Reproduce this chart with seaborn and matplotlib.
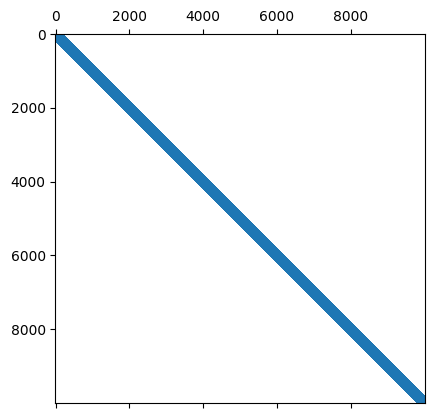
import numpy as np
import pandas as pd
import matplotlib
matplotlib.use("Agg")
import matplotlib.pyplot as plt
import seaborn as sns

# Banded sparse matrix: size and nonzero diagonal offsets
n_size = 10000
band_offsets = [-1, 0, 1]
tick_values = [0, 2000, 4000, 6000, 8000]

rows, cols = [], []
for k in band_offsets:
    idx = np.arange(max(0, -k), min(n_size, n_size - k))
    rows.append(idx)
    cols.append(idx + k)
df = pd.DataFrame({"row": np.concatenate(rows), "col": np.concatenate(cols)})

plt.rcParams["font.family"] = ["DejaVu Sans"]
fig = plt.figure(figsize=(4.34, 4.18), dpi=100)
ax = fig.add_axes([55 / 434, (418 - 403) / 418, 370 / 434, 369 / 418])

sns.scatterplot(data=df, x="col", y="row", marker="s", s=36, color="#1f77b4",
                linewidth=0, ax=ax, legend=False)

ax.set_xlim(-0.5, n_size - 0.5)
ax.set_ylim(n_size - 0.5, -0.5)
ax.set_aspect("equal", adjustable="box")
ax.set_xticks(tick_values)
ax.set_yticks(tick_values)
ax.xaxis.set_ticks_position("both")
ax.tick_params(axis="x", labelbottom=False, labeltop=True, labelsize=10)
ax.tick_params(axis="y", labelsize=10)
ax.set_xlabel("")
ax.set_ylabel("")

fig.savefig("out.png", dpi=100)
